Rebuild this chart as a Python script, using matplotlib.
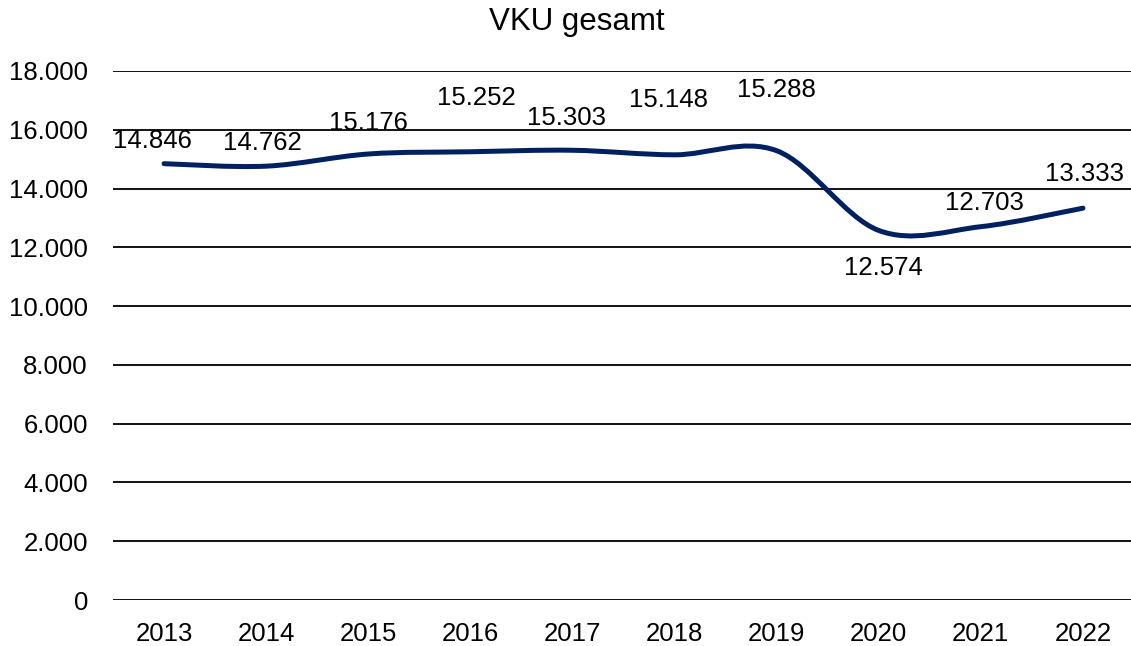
import matplotlib
matplotlib.use("Agg")
import matplotlib.pyplot as plt
from matplotlib.path import Path
from matplotlib.patches import PathPatch
import numpy as np

plt.rcParams['font.family'] = ['Liberation Sans', 'DejaVu Sans']

years = ["2013", "2014", "2015", "2016", "2017", "2018", "2019", "2020", "2021", "2022"]
values = [14846, 14762, 15176, 15252, 15303, 15148, 15288, 12574, 12703, 13333]
yticks = [0, 2000, 4000, 6000, 8000, 10000, 12000, 14000, 16000, 18000]
title = "VKU gesamt"

# label offsets in pixels (style only)
label_offsets = [(-12, 23), (-4, 23), (0, 31), (6, 54), (-6, 32), (-6, 55),
                 (0, 61), (5, -38), (4, 24), (2, 34)]

def de(v):
    return f"{v:,.0f}".replace(",", ".")

fig = plt.figure(figsize=(11.31, 6.46), dpi=100)
ax = fig.add_axes([113/1131, 1 - 600/646, (1134 - 113)/1131, (600 - 71)/646])
ax.set_xlim(-0.5, 9.5)
ax.set_ylim(0, 18000)

for s in ax.spines.values():
    s.set_visible(False)
ax.set_yticks(yticks)
ax.set_yticklabels([de(v) for v in yticks])
ax.set_xticks(range(len(years)))
ax.set_xticklabels(years)
ax.tick_params(axis='both', length=0, labelsize=18.5, colors='black')
ax.tick_params(axis='y', pad=18)
ax.tick_params(axis='x', pad=15.5)
ax.grid(axis='y', color='black', linewidth=1.3)
ax.set_axisbelow(True)

# smoothed line (Catmull-Rom style Bezier like Excel)
x = np.arange(len(values), dtype=float)
y = np.array(values, dtype=float)
pts = np.column_stack([x, y])
verts = [tuple(pts[0])]
codes = [Path.MOVETO]
n = len(pts)
for i in range(n - 1):
    p0 = pts[i - 1] if i > 0 else pts[i]
    p1 = pts[i]
    p2 = pts[i + 1]
    p3 = pts[i + 2] if i + 2 < n else pts[i + 1]
    c1 = p1 + (p2 - p0) / 6.0
    c2 = p2 - (p3 - p1) / 6.0
    verts += [tuple(c1), tuple(c2), tuple(p2)]
    codes += [Path.CURVE4, Path.CURVE4, Path.CURVE4]
patch = PathPatch(Path(verts, codes), fill=False, edgecolor='#002060',
                  linewidth=3.6, capstyle='round', joinstyle='round', zorder=3)
ax.add_patch(patch)

for i, v in enumerate(values):
    dx, dy = label_offsets[i]
    ax.annotate(de(v), (i, v), xytext=(dx, dy), textcoords='offset pixels',
                ha='center', va='center', fontsize=18.5, color='black', zorder=4)

fig.text(577/1131, 1 - 22/646, title, ha='center', va='center', fontsize=22.5, color='black')

fig.savefig("out.png", dpi=100)
